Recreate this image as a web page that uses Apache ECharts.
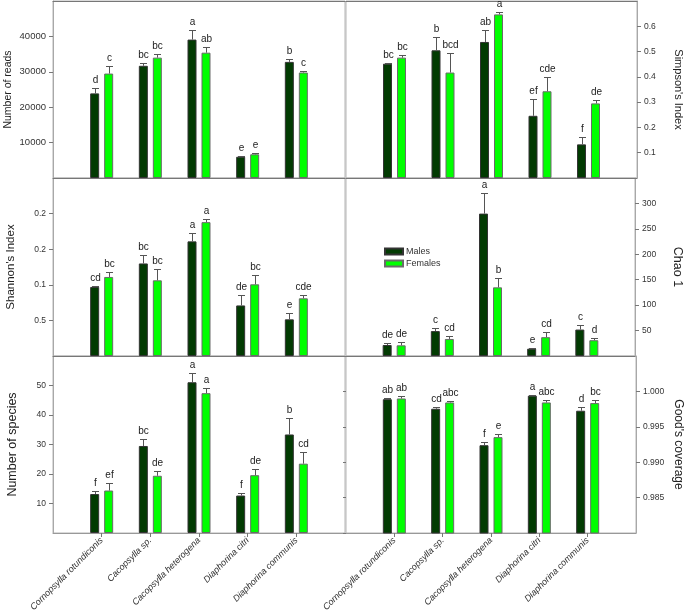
<!DOCTYPE html>
<html><head><meta charset="utf-8">
<script src="https://cdn.jsdelivr.net/npm/echarts@6/dist/echarts.min.js"></script>
<style>html,body{margin:0;padding:0;background:#fff}#c{width:685px;height:614px}</style>
</head><body><div id="c"></div>
<script>
// ---------------- data ----------------
const categories = ['Cornopsylla rotundiconis', 'Cacopsylla sp.', 'Cacopsylla heterogena', 'Diaphorina citri', 'Diaphorina communis'];
const seriesNames = ['Males', 'Females'];

const readsMales = [23900, 31700, 39100, 6000, 32800];
const readsMalesErr = [1400, 900, 2700, 200, 700];
const readsFemales = [29500, 34000, 35400, 6700, 29800];
const readsFemalesErr = [2200, 1100, 1700, 300, 300];
const readsMalesLetters = ['d', 'bc', 'a', 'e', 'b'];
const readsFemalesLetters = ['c', 'bc', 'ab', 'e', 'c'];

const simpsonMales = [0.452, 0.505, 0.538, 0.246, 0.133];
const simpsonMalesErr = [0.003, 0.053, 0.049, 0.066, 0.029];
const simpsonFemales = [0.476, 0.417, 0.647, 0.343, 0.295];
const simpsonFemalesErr = [0.012, 0.076, 0.011, 0.057, 0.014];
const simpsonMalesLetters = ['bc', 'b', 'ab', 'ef', 'f'];
const simpsonFemalesLetters = ['bc', 'bcd', 'a', 'cde', 'de'];

const shannonMales = [0.97, 1.30, 1.61, 0.71, 0.515];
const shannonMalesErr = [0.01, 0.12, 0.12, 0.14, 0.085];
const shannonFemales = [1.11, 1.063, 1.88, 1.007, 0.81];
const shannonFemalesErr = [0.065, 0.16, 0.04, 0.135, 0.04];
const shannonMalesLetters = ['cd', 'bc', 'a', 'de', 'e'];
const shannonFemalesLetters = ['bc', 'bc', 'a', 'bc', 'cde'];
const shannonTickLabels = ['0.5', '0.1', '0.2', '0.2'];

const chaoMales = [21.6, 49, 280, 14.4, 52];
const chaoMalesErr = [4, 7, 40, 2, 8];
const chaoFemales = [21, 33.5, 135, 37, 31];
const chaoFemalesErr = [6, 5, 18, 11, 5];
const chaoMalesLetters = ['de', 'c', 'a', 'e', 'c'];
const chaoFemalesLetters = ['de', 'cd', 'b', 'cd', 'd'];

const speciesMales = [13.2, 29.5, 51.1, 12.7, 33.4];
const speciesMalesErr = [1, 2.5, 3, 1, 5.5];
const speciesFemales = [14.4, 19.4, 47.4, 19.6, 23.5];
const speciesFemalesErr = [2.4, 1.7, 1.8, 2.2, 4];
const speciesMalesLetters = ['f', 'bc', 'a', 'f', 'b'];
const speciesFemalesLetters = ['ef', 'de', 'a', 'de', 'cd'];

const goodsMales = [0.9989, 0.99755, 0.9924, 0.9994, 0.99727];
const goodsMalesErr = [0.0001, 0.0003, 0.0005, 0.0001, 0.0005];
const goodsFemales = [0.9990, 0.99844, 0.99354, 0.99844, 0.99835];
const goodsFemalesErr = [0.0004, 0.0002, 0.0004, 0.0003, 0.0005];
const goodsMalesLetters = ['ab', 'cd', 'f', 'a', 'd'];
const goodsFemalesLetters = ['ab', 'abc', 'e', 'abc', 'bc'];

// ---------------- layout / style ----------------
const FONT = '"Liberation Sans", Arial, sans-serif';
const colMales = '#023b02', colFemales = '#00ff00';
const BAR_W = 9, BAR_GAP = 5;
const xCats = ['_pad0'].concat(categories, ['_pad6']);
const cols = [{left: 53, width: 292}, {left: 346, width: 291}];
const rows = [{top: 1, height: 177}, {top: 178, height: 178}, {top: 356, height: 177}];

const panels = [
  {row: 0, col: 0, name: 'Number of reads', nameSize: 10.5, nameGap: 39, min: 0, max: 50000, interval: 10000,
   m: readsMales, me: readsMalesErr, f: readsFemales, fe: readsFemalesErr, ml: readsMalesLetters, fl: readsFemalesLetters,
   fmt: v => String(v), labelSize: 9.5},
  {row: 0, col: 1, name: "Simpson's Index", nameSize: 11, nameGap: 36, min: 0, max: 0.7, interval: 0.1,
   m: simpsonMales, me: simpsonMalesErr, f: simpsonFemales, fe: simpsonFemalesErr, ml: simpsonMalesLetters, fl: simpsonFemalesLetters,
   fmt: v => v.toFixed(1), labelSize: 8.5},
  {row: 1, col: 0, name: "Shannon's Index", nameSize: 11.5, nameGap: 36, min: 0, max: 2.5, interval: 0.5,
   m: shannonMales, me: shannonMalesErr, f: shannonFemales, fe: shannonFemalesErr, ml: shannonMalesLetters, fl: shannonFemalesLetters,
   fmt: v => shannonTickLabels[Math.round(v / 0.5) - 1] || '', labelSize: 8.5},
  {row: 1, col: 1, name: 'Chao 1', nameSize: 12.5, nameGap: 36, min: 0, max: 350, interval: 50,
   m: chaoMales, me: chaoMalesErr, f: chaoFemales, fe: chaoFemalesErr, ml: chaoMalesLetters, fl: chaoFemalesLetters,
   fmt: v => String(v), labelSize: 8.5},
  {row: 2, col: 0, name: 'Number of species', nameSize: 12.5, nameGap: 34, min: 0, max: 60, interval: 10,
   m: speciesMales, me: speciesMalesErr, f: speciesFemales, fe: speciesFemalesErr, ml: speciesMalesLetters, fl: speciesFemalesLetters,
   fmt: v => String(v), labelSize: 8.5},
  {row: 2, col: 1, name: "Good's coverage", nameSize: 12, nameGap: 36, min: 0.98, max: 1.005, interval: 0.005,
   m: goodsMales, me: goodsMalesErr, f: goodsFemales, fe: goodsFemalesErr, ml: goodsMalesLetters, fl: goodsFemalesLetters,
   fmt: v => v.toFixed(3), labelSize: 8.5}
];

const grid = [], xAxis = [], yAxis = [], series = [];

function errRender(offset, letters) {
  return function (params, api) {
    const idx = api.value(0), v = api.value(1), e = api.value(2);
    const p0 = api.coord([idx, v]);
    const p1 = api.coord([idx, v + e]);
    const x = Math.round(p0[0] + offset) + 0.5;
    const yTop = Math.round(p1[1]) + 0.5;
    return {
      type: 'group',
      children: [
        {type: 'line', shape: {x1: x, y1: p0[1], x2: x, y2: yTop}, style: {stroke: '#555', lineWidth: 1}},
        {type: 'line', shape: {x1: x - 3.5, y1: yTop, x2: x + 3.5, y2: yTop}, style: {stroke: '#555', lineWidth: 1}},
        {type: 'text', x: x, y: yTop - 3,
         style: {text: letters[params.dataIndex], fill: '#222', fontSize: 10, fontFamily: FONT,
                 align: 'center', verticalAlign: 'bottom'}}
      ]
    };
  };
}

panels.forEach((p, gi) => {
  const c = cols[p.col], r = rows[p.row];
  grid.push({left: c.left, width: c.width, top: r.top, height: r.height,
             show: true, borderColor: '#b5b5b5', borderWidth: 1, backgroundColor: 'transparent'});
  const bottomRow = p.row === 2;
  xAxis.push({
    type: 'category', gridIndex: gi, data: xCats, boundaryGap: false, position: 'bottom',
    axisLine: {show: true, lineStyle: {color: bottomRow ? '#999' : '#777', width: 1}},
    axisTick: {show: bottomRow, length: 4, lineStyle: {color: '#777'}, interval: (i) => i > 0 && i < 6},
    axisLabel: {show: bottomRow, rotate: 45, margin: 6, fontSize: 9, fontStyle: 'italic', color: '#333',
                fontFamily: FONT, interval: (i) => i > 0 && i < 6},
    splitLine: {show: false}
  });
  const isRight = p.col === 1;
  yAxis.push({
    type: 'value', gridIndex: gi, position: isRight ? 'right' : 'left',
    min: p.min, max: p.max, interval: p.interval,
    name: p.name, nameLocation: 'middle', nameGap: p.nameGap, nameRotate: isRight ? -90 : 90,
    nameTextStyle: {fontSize: p.nameSize, color: '#222', fontFamily: FONT},
    axisLine: {show: true, lineStyle: {color: '#a8a8a8'}},
    axisTick: {show: true, length: 4, lineStyle: {color: '#777'}},
    axisLabel: {show: true, margin: 7, fontSize: p.labelSize, color: '#333', fontFamily: FONT,
                showMinLabel: false, showMaxLabel: false, formatter: p.fmt},
    splitLine: {show: false}
  });
  const yi = yAxis.length - 1;
  series.push({
    type: 'bar', name: seriesNames[0], xAxisIndex: gi, yAxisIndex: yi,
    data: ['-'].concat(p.m, ['-']), barWidth: BAR_W, barGap: (BAR_GAP / BAR_W * 100) + '%',
    itemStyle: {color: colMales, borderColor: '#333', borderWidth: 1}, silent: true
  });
  series.push({
    type: 'bar', name: seriesNames[1], xAxisIndex: gi, yAxisIndex: yi,
    data: ['-'].concat(p.f, ['-']), barWidth: BAR_W, barGap: (BAR_GAP / BAR_W * 100) + '%',
    itemStyle: {color: colFemales, borderColor: '#6a6a6a', borderWidth: 1}, silent: true
  });
  const off = (BAR_W + BAR_GAP) / 2;
  series.push({
    type: 'custom', xAxisIndex: gi, yAxisIndex: yi, z: 5, silent: true,
    data: p.m.map((v, i) => [i + 1, v, p.me[i]]), renderItem: errRender(-off, p.ml), clip: false
  });
  series.push({
    type: 'custom', xAxisIndex: gi, yAxisIndex: yi, z: 5, silent: true,
    data: p.f.map((v, i) => [i + 1, v, p.fe[i]]), renderItem: errRender(off, p.fl), clip: false
  });
});

// top border for upper row
[0, 1].forEach(gi => {
  xAxis.push({type: 'category', gridIndex: gi, data: xCats, boundaryGap: false, position: 'top',
    axisLine: {show: true, lineStyle: {color: '#777'}}, axisTick: {show: false}, axisLabel: {show: false}});
});
// mirrored ticks on the left edge of the Good's coverage panel
yAxis.push({type: 'value', gridIndex: 5, position: 'left', min: 0.98, max: 1.005, interval: 0.005,
  axisLine: {show: false}, axisTick: {show: true, length: 3, lineStyle: {color: '#777'}},
  axisLabel: {show: false}, splitLine: {show: false}});

const chart = echarts.init(document.getElementById('c'), null, {renderer: 'canvas'});
chart.setOption({
  animation: false,
  backgroundColor: '#fff',
  textStyle: {fontFamily: FONT},
  grid, xAxis, yAxis, series,
  legend: {
    data: seriesNames, orient: 'vertical', left: 379, top: 242,
    itemWidth: 18, itemHeight: 6, itemGap: 3, icon: 'rect',
    textStyle: {fontSize: 9, color: '#333', fontFamily: FONT, padding: [0, 0, 0, -2]},
    selectedMode: false
  }
});
</script>
</body></html>
